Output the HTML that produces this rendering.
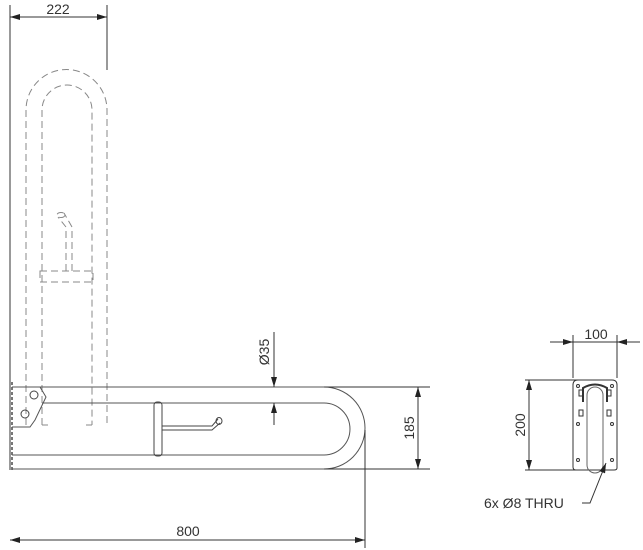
<!DOCTYPE html>
<html><head><style>body{margin:0;background:#fff}svg{display:block}text{font-family:"Liberation Sans",sans-serif;fill:#333}</style></head>
<body>
<svg width="643" height="550" viewBox="0 0 643 550" xmlns="http://www.w3.org/2000/svg">
<defs><marker id="a" markerWidth="10" markerHeight="6" refX="10" refY="3" orient="auto-start-reverse" markerUnits="userSpaceOnUse"><path d="M0,0L10,3L0,6z" fill="#222"/></marker></defs>
<g fill="none" stroke="#444" stroke-width="1">
<g stroke="#888" stroke-dasharray="7,4">
<path d="M26,425V110A40.5,40.5 0 0 1 107,110V425"/>
<path d="M42,425V110A25,25 0 0 1 92,110V425"/>
<path d="M42,425h6M86,425h6"/>
<rect x="40" y="271" width="53" height="11"/>
<path d="M66,271V227M72,271V227M66,227l-8,-10M72,227l-8,-14"/>
<ellipse cx="61" cy="215" rx="4" ry="2.5"/>
</g>
<path d="M10,5V470" stroke="#333"/>
<path d="M12,382V470" stroke="#777" stroke-width="2" stroke-dasharray="3,2"/>
<path d="M12,387H324A41,41 0 0 1 324,469H12" stroke="#555"/>
<path d="M42,403H324A26,26 0 0 1 324,455H12" stroke="#555"/>
<path d="M12,387H40L46,397L35,420L30,427H12" stroke="#555"/>
<circle cx="34" cy="395" r="4"/><circle cx="25" cy="414" r="4"/>
<rect x="154" y="402" width="8" height="54" rx="3"/>
<path d="M162,426H212L218,419M162,430H212L220,423"/>
<ellipse cx="219" cy="421" rx="3" ry="3.5"/>
<g stroke="#333">
<path d="M107,5V70"/>
<path d="M10,17H107" marker-start="url(#a)" marker-end="url(#a)"/>
<path d="M365,430V548"/>
<path d="M10,540H365" marker-start="url(#a)" marker-end="url(#a)"/>
<path d="M324,387H430M324,469H430"/>
<path d="M418,387V469" marker-start="url(#a)" marker-end="url(#a)"/>
<path d="M274,332V387" marker-end="url(#a)"/>
<path d="M274,425V403" marker-end="url(#a)"/>
<path d="M573,335V378M617,335V378"/>
<path d="M550,342H573" marker-end="url(#a)"/><path d="M573,342H617"/><path d="M640,342H617" marker-end="url(#a)"/>
<path d="M525,380H585M525,470H600"/>
<path d="M529,380V470" marker-start="url(#a)" marker-end="url(#a)"/>
<path d="M578,380H612Q617,380 617,385V468Q617,470 614,470H576Q573,470 573,467V385Q573,380 578,380Z"/>
<path d="M587,465V395A8,8 0 0 1 603,395V465A8,8 0 0 1 587,465" stroke="#666"/>
<path d="M583,402V388Q595,381 607,388V402" stroke-width="2"/>
<rect x="579" y="390" width="4" height="6"/><rect x="607" y="390" width="4" height="6"/>
<rect x="579" y="410" width="4" height="6"/><rect x="607" y="410" width="4" height="6"/>
<circle cx="578" cy="386" r="1.5"/><circle cx="612" cy="386" r="1.5"/>
<circle cx="578" cy="424" r="1.5"/><circle cx="612" cy="424" r="1.5"/>
<circle cx="578" cy="460" r="1.5"/><circle cx="612" cy="460" r="1.5"/>
<path d="M582,503H590L606,463" marker-end="url(#a)"/>
</g>
</g>
<text x="58" y="14" font-size="14" text-anchor="middle">222</text>
<text x="188" y="536" font-size="14" text-anchor="middle">800</text>
<text transform="translate(414,428) rotate(-90)" font-size="14" text-anchor="middle">185</text>
<text transform="translate(269,352) rotate(-90)" font-size="14" text-anchor="middle">Ø35</text>
<text x="596" y="339" font-size="14" text-anchor="middle">100</text>
<text transform="translate(525,425) rotate(-90)" font-size="14" text-anchor="middle">200</text>
<text x="484" y="508" font-size="14">6x  Ø8  THRU</text>
</svg>
</body></html>
